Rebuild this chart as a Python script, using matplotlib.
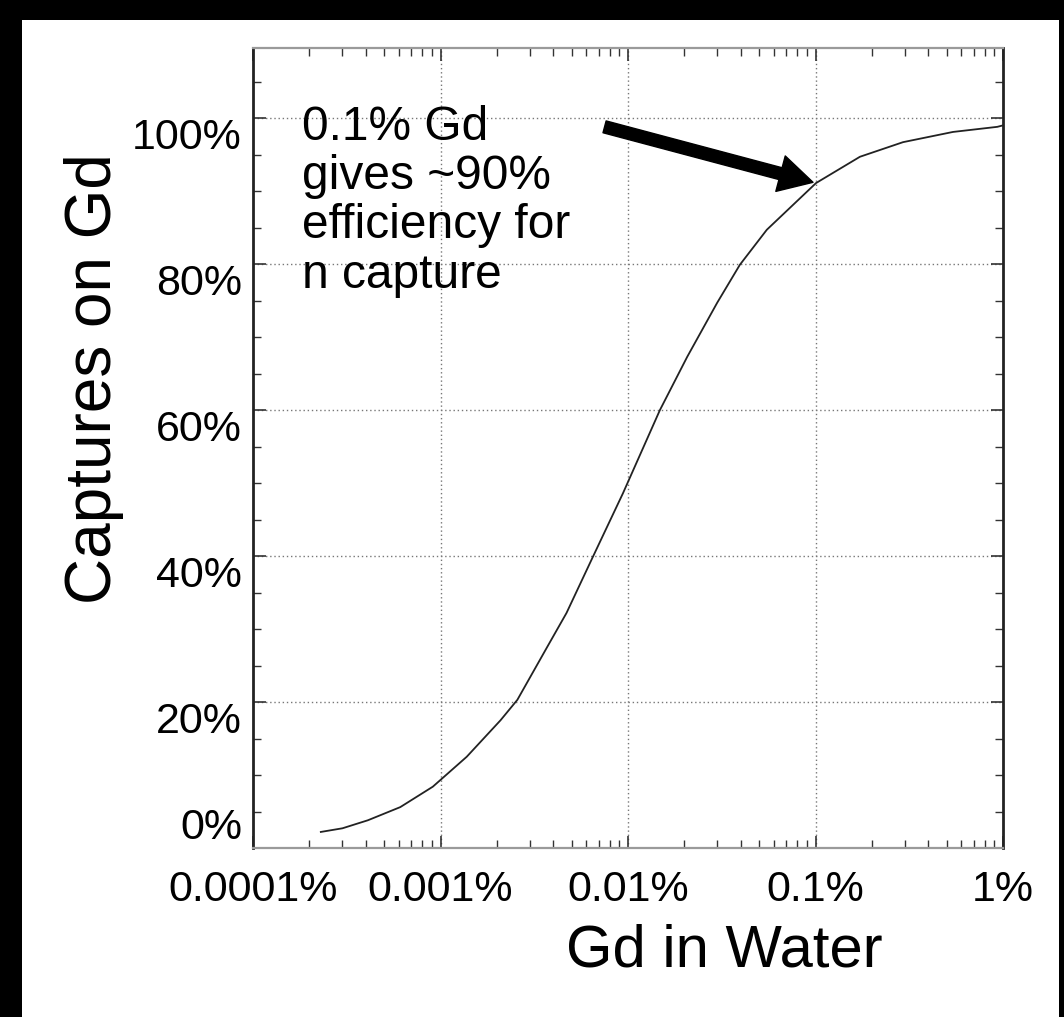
"""Fraction of neutron captures on Gd vs Gd concentration in water."""
import matplotlib

matplotlib.use("Agg")
import matplotlib.pyplot as plt
from matplotlib.patches import Rectangle
from matplotlib.ticker import FixedLocator, MultipleLocator, LogLocator, NullFormatter

# Gd concentration in water (%)
gd_pct = [2.3e-4, 3.0e-4, 4.1e-4, 6.1e-4, 9.1e-4, 1.38e-3, 2.09e-3, 2.57e-3,
          3.7e-3, 4.7e-3, 6.5e-3, 9.4e-3, 0.0148, 0.0207, 0.0299, 0.0395,
          0.055, 0.1007, 0.1726, 0.293, 0.541, 0.933, 1.0]
# captures on Gd (%)
captures = [2.2, 2.7, 3.8, 5.6, 8.4, 12.5, 17.5, 20.3, 27.5, 32.2, 39.9, 48.6,
            60.0, 67.3, 74.7, 79.9, 84.7, 91.1, 94.7, 96.7, 98.1, 98.8, 99.0]

x_ticks = [1e-4, 1e-3, 1e-2, 1e-1, 1]
x_ticklabels = ["0.0001%", "0.001%", "0.01%", "0.1%", "1%"]
y_ticks = [0, 20, 40, 60, 80, 100]
y_ticklabels = ["0%", "20%", "40%", "60%", "80%", "100%"]

note = "0.1% Gd\ngives ~90%\nefficiency for\nn capture"
note_xy = (1.82e-4, 101.8)
arrow_tail = (7.5e-3, 98.8)
arrow_head = (0.097, 91.2)

plt.rcParams["font.family"] = ["Liberation Sans", "DejaVu Sans"]

fig = plt.figure(figsize=(10.64, 10.17), dpi=100)
fig.patch.set_facecolor("black")
fig.add_artist(Rectangle((22 / 1064, 0), 1037 / 1064, 997 / 1017,
                         transform=fig.transFigure, facecolor="white",
                         edgecolor="none", zorder=-1))

ax = fig.add_axes([253 / 1064, 1 - 848 / 1017, 750 / 1064, 800 / 1017])
ax.set_xscale("log")
ax.set_xlim(1e-4, 1)
ax.set_ylim(0, 109.6)

ax.plot(gd_pct, captures, color="#222222", lw=1.3, zorder=3)

ax.xaxis.set_major_locator(FixedLocator(x_ticks))
ax.set_xticklabels(x_ticklabels)
ax.xaxis.set_minor_locator(LogLocator(base=10, subs=range(2, 10)))
ax.xaxis.set_minor_formatter(NullFormatter())
ax.yaxis.set_major_locator(FixedLocator(y_ticks))
ax.set_yticklabels(y_ticklabels)
ax.yaxis.set_minor_locator(MultipleLocator(5))

ax.tick_params(which="both", direction="in", top=True, right=True, color="#333333")
ax.tick_params(which="major", length=9, width=1.2, labelsize=31)
ax.tick_params(which="minor", length=6, width=1.0)
ax.tick_params(axis="x", which="major", pad=16)
ax.tick_params(axis="y", which="major", pad=8)

# labels in the original sit just below their tick; the 0% one rests on the axis
for i, lab in enumerate(ax.get_yticklabels()):
    lab.set_va("bottom" if i == 0 else "top")

for x in x_ticks[1:-1]:
    ax.axvline(x, color="#777777", lw=1.0, ls=(0, (1, 2)), zorder=1)
for y in y_ticks[1:]:
    ax.axhline(y, color="#777777", lw=1.0, ls=(0, (1, 2)), zorder=1)

for side in ("left", "right"):
    ax.spines[side].set_color("#222222")
    ax.spines[side].set_linewidth(2)
for side in ("top", "bottom"):
    ax.spines[side].set_color("#9a9a9a")
    ax.spines[side].set_linewidth(1.6)

ax.set_xlabel("Gd in Water", fontsize=43)
ax.xaxis.set_label_coords(0.628, -0.094)
ax.set_ylabel("Captures on Gd", fontsize=46, va="center")
ax.yaxis.set_label_coords(-0.212, 0.587)

ax.text(*note_xy, note, fontsize=34.5, ha="left", va="top", linespacing=1.12,
        zorder=4)
ax.annotate("", xy=arrow_head, xytext=arrow_tail,
            arrowprops=dict(arrowstyle="simple,head_length=1.1,head_width=1.2,tail_width=0.4",
                            color="black", mutation_scale=22, shrinkA=0, shrinkB=0),
            zorder=5)

fig.savefig("out.png", dpi=100, facecolor=fig.get_facecolor())
